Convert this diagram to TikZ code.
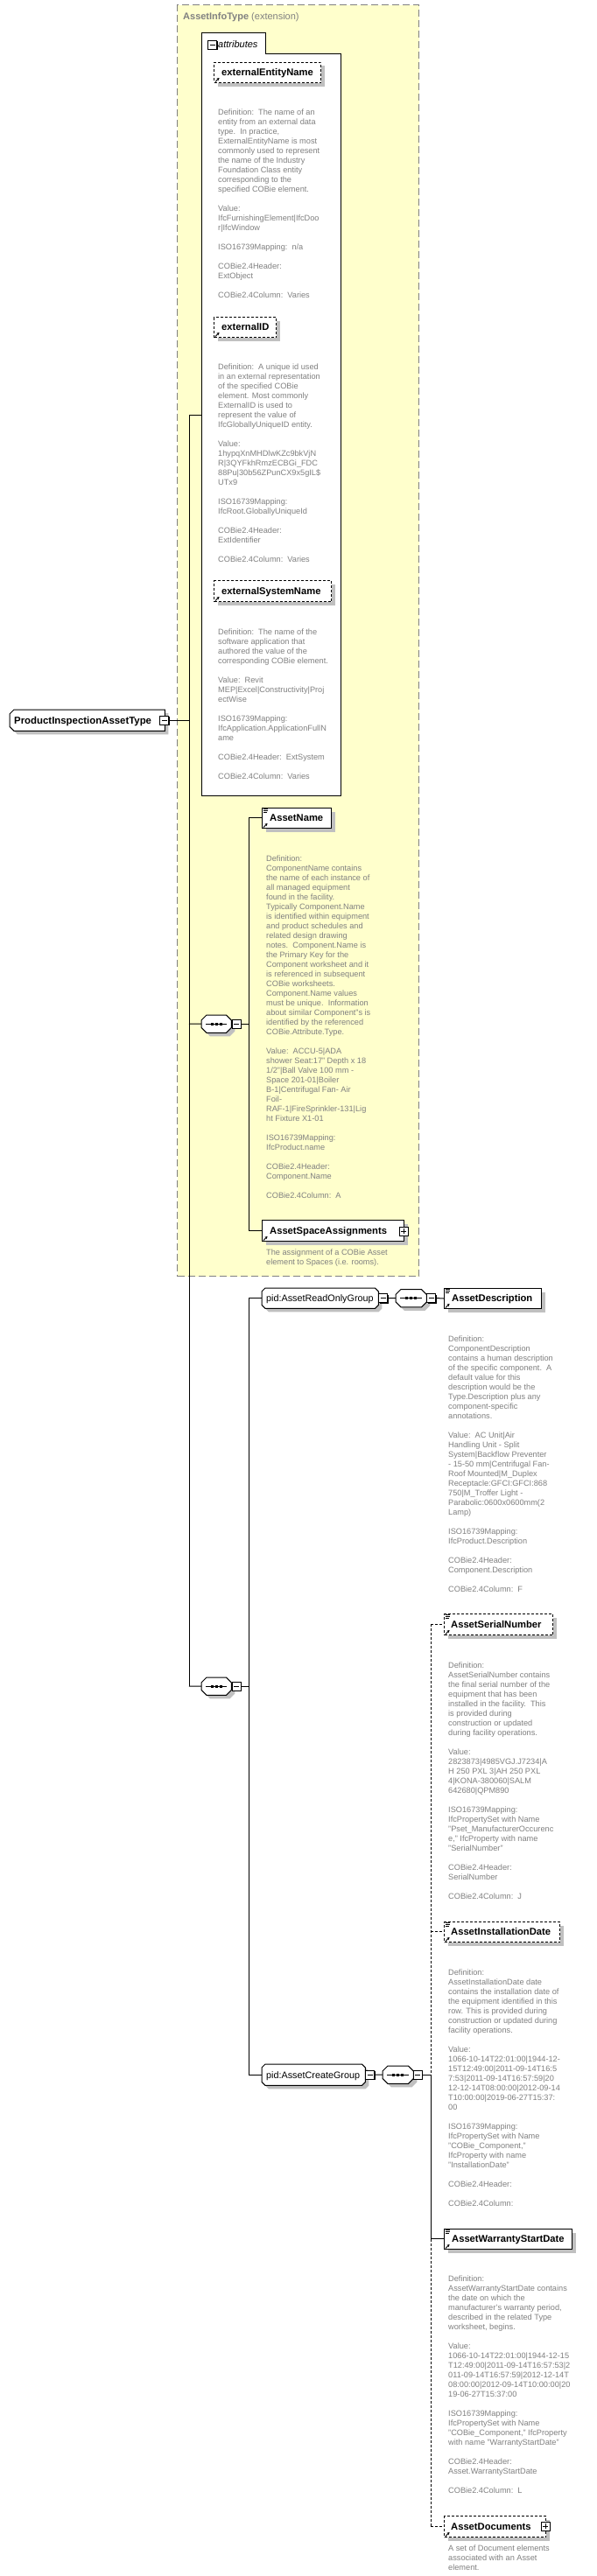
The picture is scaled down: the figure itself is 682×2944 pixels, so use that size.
\documentclass[tikz,border=0pt]{standalone}
\usepackage{fontspec}
\setmainfont{Liberation Sans}
\usetikzlibrary{calc,shadows,arrows.meta}
\definecolor{yel}{RGB}{255,255,204}
\definecolor{bord}{RGB}{128,128,128}
\definecolor{descc}{RGB}{128,128,128}
\definecolor{shadowc}{RGB}{192,192,192}
\newcommand\chshape[3]{%
 \fill[shadowc] ($(#1.north west)+(#2+4,4)$) -- ($(#1.north east)+(-#3+4,4)$) -- ($(#1.north east)+(4,#3+4)$) -- ($(#1.south east)+(4,-#3+4)$) -- ($(#1.south east)+(-#3+4,4)$) -- ($(#1.south west)+(#2+4,4)$) -- ($(#1.south west)+(4,-#2+4)$) -- ($(#1.north west)+(4,#2+4)$) -- cycle;
 \draw[line width=1pt, fill=white] ($(#1.north west)+(#2,0)$) -- ($(#1.north east)+(-#3,0)$) -- ($(#1.north east)+(0,#3)$) -- ($(#1.south east)+(0,-#3)$) -- ($(#1.south east)+(-#3,0)$) -- ($(#1.south west)+(#2,0)$) -- ($(#1.south west)+(0,-#2)$) -- ($(#1.north west)+(0,#2)$) -- cycle;}
\newcommand\seqicon[1]{%
 \draw[line width=0.9pt] ($(#1.west)+(5,0)$) -- ($(#1.east)+(-5,0)$);
 \foreach \q in {-5,0,5} \fill ($(#1.center)+(\q-1.4,-1.4)$) rectangle ++(2.8,2.8);}
\newcommand\refarrow[1]{%
 \draw[line width=0.9pt, -{Stealth[length=3pt,width=3.4pt]}] ($(#1.south west)+(2,-1.5)$) -- ++(4.5,-4.5);}
\newcommand\simplec[1]{%
 \draw[line width=0.7pt] ($(#1.north west)+(1.5,1.5)$) -- ++(5,0) ($(#1.north west)+(1.5,3.5)$) -- ++(5,0) ($(#1.north west)+(1.5,5.5)$) -- ++(4,0);}
\begin{document}
\begin{tikzpicture}[x=1pt,y=-1pt,
 ln/.style={draw=black, line width=1pt},
 dln/.style={draw=black, line width=1pt, dash pattern=on 3pt off 2pt},
 elem/.style={draw=black, fill=white, line width=1pt, inner sep=0pt, anchor=north west,
   drop shadow={shadow xshift=4pt, shadow yshift=-4pt, fill=shadowc, opacity=1}},
 optelem/.style={elem, dash pattern=on 3pt off 2pt},
 box0/.style={inner sep=0pt, draw=none, anchor=north west},
 elbl/.style={font=\fontsize{11.2}{13}\selectfont\bfseries, inner sep=0pt, anchor=base west},
 glbl/.style={font=\fontsize{10.8}{13}\selectfont, inner sep=0pt, anchor=base west},
 dtext/.style={font=\fontsize{9.2}{11}\selectfont, text=descc, align=left, inner sep=0pt, anchor=base west},
 mbox/.style={draw=black, fill=white, line width=0.8pt, minimum size=10pt, inner sep=0pt,
   drop shadow={shadow xshift=1.3pt, shadow yshift=-1.3pt, fill=black, opacity=1},
   path picture={\draw[line width=0.8pt] ([xshift=2pt]path picture bounding box.west) -- ([xshift=-2pt]path picture bounding box.east);}},
 pbox/.style={mbox,
   path picture={\draw[line width=0.8pt] ([xshift=2pt]path picture bounding box.west) -- ([xshift=-2pt]path picture bounding box.east);
     \draw[line width=0.8pt] ([yshift=-2pt]path picture bounding box.north) -- ([yshift=2pt]path picture bounding box.south);}}
]
\useasboundingbox (0,0) rectangle (682,2944);
\fill[white] (0,0) rectangle (682,2944);

% extension box
\node[draw=bord, fill=yel, dash pattern=on 8pt off 4pt, line width=1.2pt, minimum width=276pt, minimum height=1453pt, inner sep=0pt, anchor=north west] (ext) at (202,5) {};
\node[anchor=base west, inner sep=0pt, text=bord, font=\fontsize{11}{13}\selectfont] (exth) at (209,23) {\textbf{AssetInfoType} (extension)};

% attributes box
\node[box0, minimum width=159pt, minimum height=871pt] (attr) at (230,38) {};
\draw[line width=1pt, fill=white] (attr.north west) -- ++(73,0) -- ++(0,24) -- ($(attr.north east)+(0,24)$) -- (attr.south east) -- (attr.south west) -- cycle;
\node[mbox] (mat) at (242.5,51) {};
\node[anchor=base west, inner sep=0pt, font=\fontsize{11}{13}\selectfont\itshape] (attl) at (249,55) {attributes};

% attribute elements (description nodes anchored at the baseline of their last line)
\node[optelem, minimum width=122pt, minimum height=23pt] (ean) at (244,71) {};
\refarrow{ean}
\node[elbl] (eanl) at (253,86.5) {externalEntityName};
\node[dtext] (eand) at (249,340.3) {Definition:\ \ The name of an\\
entity from an external data\\
type.\ \ In practice,\\
ExternalEntityName is most\\
commonly used to represent\\
the name of the Industry\\
Foundation Class entity\\
corresponding to the\\
specified COBie element.\\[11pt]
Value:\\
IfcFurnishingElement|IfcDoo\\
r|IfcWindow\\[11pt]
ISO16739Mapping:\ \ n/a\\[11pt]
COBie2.4Header:\\
ExtObject\\[11pt]
COBie2.4Column:\ \ Varies};

\node[optelem, minimum width=71pt, minimum height=23pt] (eid) at (244,362) {};
\refarrow{eid}
\node[elbl] (eidl) at (253,377.5) {externalID};
\node[dtext] (eidd) at (249,642.3) {Definition:\ \ A unique id used\\
in an external representation\\
of the specified COBie\\
element. Most commonly\\
ExternalID is used to\\
represent the value of\\
IfcGloballyUniqueID entity.\\[11pt]
Value:\\
1hypqXnMHDlwKZc9bkVjN\\
R|3QYFkhRmzECBGi\_FDC\\
88Pu|30b56ZPunCX9x5gIL\$\\
UTx9\\[11pt]
ISO16739Mapping:\\
IfcRoot.GloballyUniqueId\\[11pt]
COBie2.4Header:\\
ExtIdentifier\\[11pt]
COBie2.4Column:\ \ Varies};

\node[optelem, minimum width=134pt, minimum height=24pt] (esn) at (244,663) {};
\refarrow{esn}
\node[elbl] (esnl) at (253,679) {externalSystemName};
\node[dtext] (esnd) at (249,890.3) {Definition:\ \ The name of the\\
software application that\\
authored the value of the\\
corresponding COBie element.\\[11pt]
Value:\ \ Revit\\
MEP|Excel|Constructivity|Proj\\
ectWise\\[11pt]
ISO16739Mapping:\\
IfcApplication.ApplicationFullN\\
ame\\[11pt]
COBie2.4Header:\ \ ExtSystem\\[11pt]
COBie2.4Column:\ \ Varies};

% main type
\node[box0, minimum width=177pt, minimum height=24pt] (pt) at (11,811) {};
\chshape{pt}{5}{0}
\node[elbl, font=\fontsize{11.4}{13}\selectfont\bfseries] (ptl) at (16,827) {ProductInspectionAssetType};
\node[mbox] (m0) at (187.5,823) {};

% spine A
\coordinate (a1) at (216,474);
\coordinate (a2) at (216,823);
\coordinate (a3) at (216,1170);
\coordinate (a4) at (216,1927);
\draw[ln] (a1) -- (a4);
\draw[ln] (a1) -- (a1 -| attr.west);
\draw[ln] (m0.east) -- (a2);

% sequence 1 (inside extension)
\node[box0, minimum width=34pt, minimum height=20pt] (s1) at (230,1160) {};
\draw[ln] (a3) -- (s1.west);
\chshape{s1}{6}{6}
\seqicon{s1}
\node[mbox] (m1) at (270,1170) {};
\coordinate (b1) at (284,934.5);
\coordinate (b2) at (284,1170);
\coordinate (b3) at (284,1406);
\draw[ln] (b1) -- (b3);
\draw[ln] (m1.east) -- (b2);

\node[elem, minimum width=79pt, minimum height=23pt] (an) at (299,923) {};
\draw[ln] (b1) -- (b1 -| an.west);
\simplec{an}
\refarrow{an}
\node[elbl] (anl) at (308,938.5) {AssetName};
\node[dtext] (and) at (304,1369.3) {Definition:\\
ComponentName contains\\
the name of each instance of\\
all managed equipment\\
found in the facility.\\
Typically Component.Name\\
is identified within equipment\\
and product schedules and\\
related design drawing\\
notes.\ \ Component.Name is\\
the Primary Key for the\\
Component worksheet and it\\
is referenced in subsequent\\
COBie worksheets.\\
Component.Name values\\
must be unique.\ \ Information\\
about similar Component"s is\\
identified by the referenced\\
COBie.Attribute.Type.\\[11pt]
Value:\ \ ACCU-5|ADA\\
shower Seat:17" Depth x 18\\
1/2"|Ball Valve 100 mm -\\
Space 201-01|Boiler\\
B-1|Centrifugal Fan- Air\\
Foil-\\
RAF-1|FireSprinkler-131|Lig\\
ht Fixture X1-01\\[11pt]
ISO16739Mapping:\\
IfcProduct.name\\[11pt]
COBie2.4Header:\\
Component.Name\\[11pt]
COBie2.4Column:\ \ A};

\node[elem, minimum width=162pt, minimum height=24pt] (asa) at (299,1394) {};
\draw[ln] (b3) -- (b3 -| asa.west);
\refarrow{asa}
\node[elbl] (asal) at (308,1410) {AssetSpaceAssignments};
\node[pbox] (pasa) at (461,1407) {};
\node[dtext] (asad) at (304,1445.3) {The assignment of a COBie Asset\\
element to Spaces (i.e. rooms).};

% sequence 2 (extension content)
\node[box0, minimum width=34pt, minimum height=20pt] (s2) at (230,1917) {};
\draw[ln] (a4) -- (s2.west);
\chshape{s2}{6}{6}
\seqicon{s2}
\node[mbox] (m2) at (270,1927) {};
\coordinate (c1) at (284,1483.5);
\coordinate (c2) at (284,1927);
\coordinate (c3) at (284,2371);
\draw[ln] (c1) -- (c3);
\draw[ln] (m2.east) -- (c2);

% read only group
\node[box0, minimum width=133pt, minimum height=23pt] (g1) at (299,1472) {};
\draw[ln] (c1) -- (c1 -| g1.west);
\chshape{g1}{4}{4}
\node[glbl] (g1l) at (304,1487.5) {pid:AssetReadOnlyGroup};
\node[mbox] (m3) at (437.5,1483.5) {};
\node[box0, minimum width=35pt, minimum height=20pt] (s3) at (452,1473.5) {};
\draw[ln] (m3.east) -- (s3.west);
\chshape{s3}{6}{6}
\seqicon{s3}
\node[mbox] (m4) at (492.5,1483.5) {};
\node[elem, minimum width=111pt, minimum height=23pt] (ad) at (507,1472) {};
\draw[ln] (m4.east) -- (ad.west);
\simplec{ad}
\refarrow{ad}
\node[elbl] (adl) at (516,1487.5) {AssetDescription};
\node[dtext] (add) at (512,1819.3) {Definition:\\
ComponentDescription\\
contains a human description\\
of the specific component.\ \ A\\
default value for this\\
description would be the\\
Type.Description plus any\\
component-specific\\
annotations.\\[11pt]
Value:\ \ AC Unit|Air\\
Handling Unit - Split\\
System|Backflow Preventer\\
- 15-50 mm|Centrifugal Fan-\\
Roof Mounted|M\_Duplex\\
Receptacle:GFCI:GFCI:868\\
750|M\_Troffer Light -\\
Parabolic:0600x0600mm(2\\
Lamp)\\[11pt]
ISO16739Mapping:\\
IfcProduct.Description\\[11pt]
COBie2.4Header:\\
Component.Description\\[11pt]
COBie2.4Column:\ \ F};

% create group
\node[box0, minimum width=118pt, minimum height=24pt] (g2) at (299,2359) {};
\draw[ln] (c3) -- (c3 -| g2.west);
\chshape{g2}{4}{4}
\node[glbl] (g2l) at (304,2375) {pid:AssetCreateGroup};
\node[mbox] (m5) at (422.5,2371) {};
\node[box0, minimum width=35pt, minimum height=20pt] (s4) at (437,2361) {};
\draw[ln] (m5.east) -- (s4.west);
\chshape{s4}{6}{6}
\seqicon{s4}
\node[mbox] (m6) at (477,2371) {};

\coordinate (d1) at (492,1856);
\coordinate (d2) at (492,2207.5);
\coordinate (d3) at (492,2371);
\coordinate (d4) at (492,2558.5);
\coordinate (d5) at (492,2887);
\draw[dln] (d1) -- (d3);
\draw[ln] (d3) -- (d4);
\draw[dln] (d4) -- (d5);
\draw[ln] (m6.east) -- (d3);

\node[optelem, minimum width=124pt, minimum height=24pt] (sn) at (507,1844) {};
\draw[dln] (d1) -- (d1 -| sn.west);
\simplec{sn}
\refarrow{sn}
\node[elbl] (snl) at (515,1860) {AssetSerialNumber};
\node[dtext] (snd) at (512,2170.3) {Definition:\\
AssetSerialNumber contains\\
the final serial number of the\\
equipment that has been\\
installed in the facility.\ \ This\\
is provided during\\
construction or updated\\
during facility operations.\\[11pt]
Value:\\
2823873|4985VGJ.J7234|A\\
H 250 PXL 3|AH 250 PXL\\
4|KONA-380060|SALM\\
642680|QPM890\\[11pt]
ISO16739Mapping:\\
IfcPropertySet with Name\\
"Pset\_ManufacturerOccurenc\\
e," IfcProperty with name\\
"SerialNumber"\\[11pt]
COBie2.4Header:\\
SerialNumber\\[11pt]
COBie2.4Column:\ \ J};

\node[optelem, minimum width=132pt, minimum height=23pt] (aid) at (507,2196) {};
\draw[dln] (d2) -- (d2 -| aid.west);
\simplec{aid}
\refarrow{aid}
\node[elbl] (aidl) at (515,2211.5) {AssetInstallationDate};
\node[dtext] (aidd) at (512,2521.3) {Definition:\\
AssetInstallationDate date\\
contains the installation date of\\
the equipment identified in this\\
row. This is provided during\\
construction or updated during\\
facility operations.\\[11pt]
Value:\\
1066-10-14T22:01:00|1944-12-\\
15T12:49:00|2011-09-14T16:5\\
7:53|2011-09-14T16:57:59|20\\
12-12-14T08:00:00|2012-09-14\\
T10:00:00|2019-06-27T15:37:\\
00\\[11pt]
ISO16739Mapping:\\
IfcPropertySet with Name\\
"COBie\_Component,"\\
IfcProperty with name\\
"InstallationDate"\\[11pt]
COBie2.4Header:\\[11pt]
COBie2.4Column:};

\node[elem, minimum width=146pt, minimum height=23pt] (aw) at (507,2547) {};
\draw[ln] (d4) -- (d4 -| aw.west);
\simplec{aw}
\refarrow{aw}
\node[elbl] (awl) at (516,2562.5) {AssetWarrantyStartDate};
\node[dtext] (awd) at (512,2849.3) {Definition:\\
AssetWarrantyStartDate contains\\
the date on which the\\
manufacturer's warranty period,\\
described in the related Type\\
worksheet, begins.\\[11pt]
Value:\\
1066-10-14T22:01:00|1944-12-15\\
T12:49:00|2011-09-14T16:57:53|2\\
011-09-14T16:57:59|2012-12-14T\\
08:00:00|2012-09-14T10:00:00|20\\
19-06-27T15:37:00\\[11pt]
ISO16739Mapping:\\
IfcPropertySet with Name\\
"COBie\_Component," IfcProperty\\
with name "WarrantyStartDate"\\[11pt]
COBie2.4Header:\\
Asset.WarrantyStartDate\\[11pt]
COBie2.4Column:\ \ L};

\node[optelem, minimum width=116pt, minimum height=24pt] (docs) at (507,2875) {};
\draw[dln] (d5) -- (d5 -| docs.west);
\refarrow{docs}
\node[elbl] (docsl) at (515,2891) {AssetDocuments};
\node[pbox] (pdocs) at (623,2887) {};
\node[dtext] (docsd) at (512,2937.3) {A set of Document elements\\
associated with an Asset\\
element.};
\end{tikzpicture}
\end{document}
